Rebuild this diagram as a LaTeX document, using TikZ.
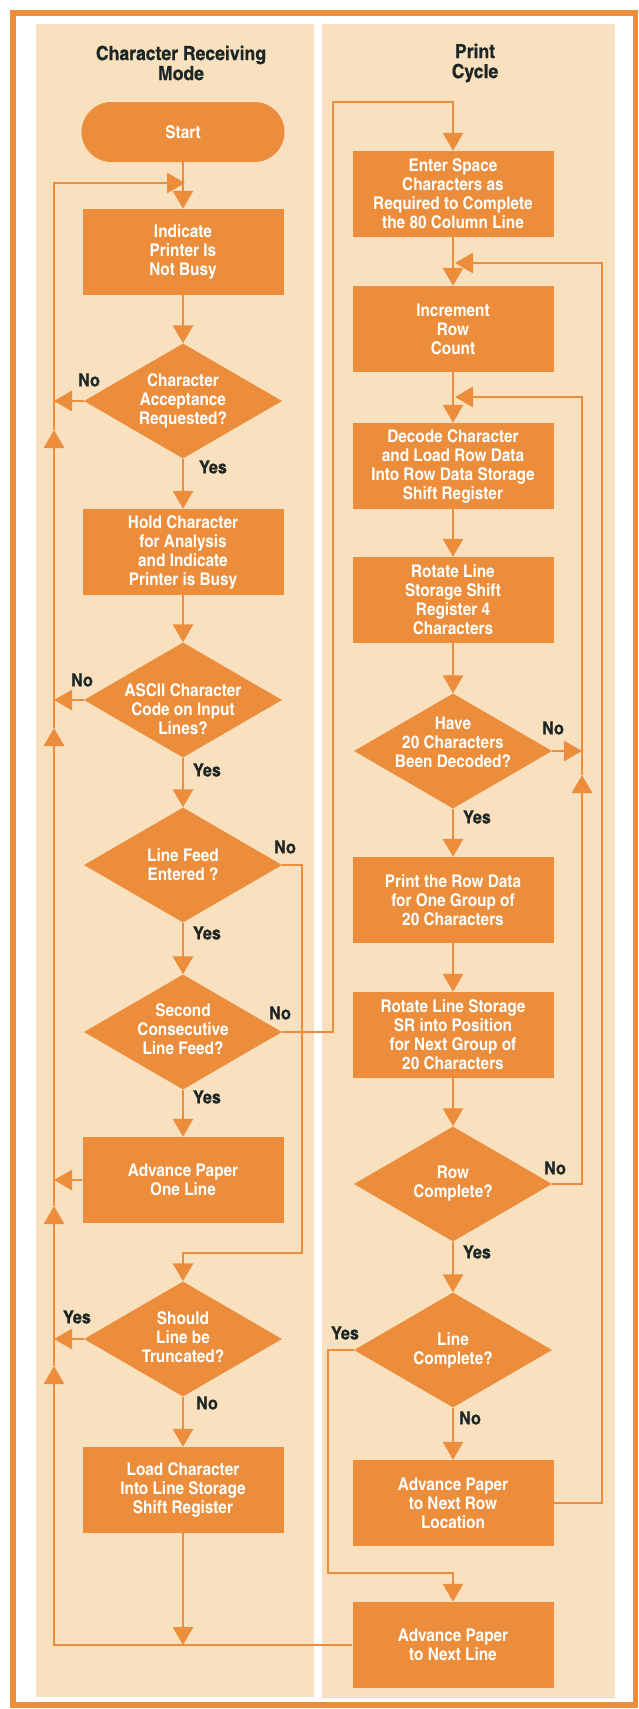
\documentclass[tikz,border=0pt]{standalone}
\usepackage{fontspec}
\newfontfamily\hf{texgyreheroscn-bold.otf}[FakeStretch=1.07]
\newfontfamily\tf{texgyreheroscn-bold.otf}[FakeStretch=1.1,FakeBold=0.6]
\usetikzlibrary{shapes.geometric,arrows.meta,calc}
\definecolor{org}{RGB}{235,141,58}
\definecolor{bge}{RGB}{249,224,190}
\definecolor{ink}{RGB}{28,38,36}
\tikzset{
  wtext/.style={text=white,font=\hf\fontsize{17.5}{19}\selectfont,align=center,inner sep=0pt},
  box/.style={rectangle,fill=org,minimum width=201pt,minimum height=86pt,inner sep=0pt,wtext},
  term/.style={rectangle,rounded corners=30pt,fill=org,minimum width=203pt,minimum height=60pt,inner sep=0pt,wtext},
  dia/.style={diamond,fill=org,minimum width=198pt,minimum height=115pt,inner sep=0pt},
  lab/.style={text=ink,font=\tf\fontsize{18}{19}\selectfont,inner sep=0pt},
  ttl/.style={text=ink,font=\tf\fontsize{19.5}{20}\selectfont,align=center,inner sep=0pt},
  arr/.style={draw=org,line width=2.8pt,-{Triangle[length=18pt,width=20pt]}},
  ln/.style={draw=org,line width=2.8pt},
}
\begin{document}
\begin{tikzpicture}[x=1pt,y=-1pt]
\useasboundingbox (0,0) rectangle (639,1709);
\fill[white] (0,0) rectangle (639,1709);
\draw[org,line width=5.5pt] (13,13) rectangle (635.5,1705);
\fill[bge] (36,24) rectangle (314,1697);
\fill[bge] (322,24) rectangle (615,1698);

% titles
\node[ttl] (t1) at (181,63) {Character Receiving\\Mode};
\node[ttl] (t2) at (475,63) {Print\\Cycle};

% left column
\node[term] (start) at (183,132) {Start};
\node[box] (ind) at (183,252) {Indicate\\Printer Is\\Not Busy};
\node[dia,label={[wtext]center:{Character\\Acceptance\\Requested?}}] (d1) at (183,401) {};
\node[box] (hold) at (183,552) {Hold Character\\for Analysis\\and Indicate\\Printer is Busy};
\node[dia,label={[wtext,yshift=-9pt]center:{ASCII Character\\Code on Input\\Lines?}}] (d2) at (183,700) {};
\node[dia,label={[wtext]center:{Line Feed\\Entered ?}}] (d3) at (183,865) {};
\node[dia,label={[wtext,yshift=3pt]center:{Second\\Consecutive\\Line Feed?}}] (d4) at (183,1032) {};
\node[box] (adv1) at (183,1180) {Advance Paper\\One Line};
\node[dia,label={[wtext,yshift=2pt]center:{Should\\Line be\\Truncated?}}] (d5) at (183,1339) {};
\node[box] (load) at (183,1490) {Load Character\\Into Line Storage\\Shift Register};

% right column
\node[box] (enter) at (453,194) {Enter Space\\Characters as\\Required to Complete\\the 80 Column Line};
\node[box] (inc) at (453,329) {Increment\\Row\\Count};
\node[box] (dec) at (453,466) {Decode Character\\and Load Row Data\\Into Row Data Storage\\Shift Register};
\node[box] (rot) at (453,600) {Rotate Line\\Storage Shift\\Register 4\\Characters};
\node[dia,label={[wtext,yshift=9pt]center:{Have\\20 Characters\\Been Decoded?}}] (d6) at (453,751) {};
\node[box] (print) at (453,900) {Print the Row Data\\for One Group of\\20 Characters};
\node[box] (rot2) at (453,1035) {Rotate Line Storage\\SR into Position\\for Next Group of\\20 Characters};
\node[dia,label={[wtext]center:{Row\\Complete?}}] (d7) at (453,1184) {};
\node[dia,label={[wtext]center:{Line\\Complete?}}] (d8) at (453,1350) {};
\node[box] (advrow) at (453,1503) {Advance Paper\\to Next Row\\Location};
\node[box] (advline) at (453,1645) {Advance Paper\\to Next Line};

% coordinates for loops
\coordinate (lb) at (54,1645);
\coordinate (u4) at (54,1366);
\coordinate (u3) at (54,1206);
\coordinate (u2) at (54,728);
\coordinate (u1) at (54,430);
\coordinate (lt) at (54,183);
\coordinate (jt) at (185,183);
\coordinate (lfx) at (302,865);
\coordinate (lfy) at (302,1253);
\coordinate (scx) at (333,102);
\coordinate (r1t) at (602,263);
\coordinate (r1j) at (455,263);
\coordinate (r2b) at (582,1184);
\coordinate (r2u) at (582,775);
\coordinate (r2t) at (582,397);
\coordinate (r2j) at (455,397);
\coordinate (ly1) at (328,1350);
\coordinate (ly2) at (328,1573);

% left connectors
\draw[arr] (start) -- (ind);
\draw[arr] (ind) -- (d1);
\draw[arr] (d1) -- (hold);
\draw[arr] (hold) -- (d2);
\draw[arr] (d2) -- (d3);
\draw[arr] (d3) -- (d4);
\draw[arr] (d4) -- (adv1);
\draw[arr] (d5) -- (load);
\draw[arr] (load) -- (load |- lb);
\draw[arr] (d1.west) -- (d1.west -| lt);
\draw[arr] (d2.west) -- (d2.west -| lt);
\draw[arr] (adv1.west) -- (adv1.west -| lt);
\draw[arr] (d5.west) -- (d5.west -| lt);
\draw[arr] (advline.west) -- (lb) -- (u4);
\draw[arr] (u4) -- (u3);
\draw[arr] (u3) -- (u2);
\draw[arr] (u2) -- (u1);
\draw[arr] (u1) -- (lt) -- (jt);
\draw[arr] (d3.east) -- (lfx) -- (lfy) -- (lfy -| d5) -- (d5);
\draw[arr] (d4.east) -| (scx) -| (enter);

% right connectors
\draw[arr] (enter) -- (inc);
\draw[arr] (inc) -- (dec);
\draw[arr] (dec) -- (rot);
\draw[arr] (rot) -- (d6);
\draw[arr] (d6) -- (print);
\draw[arr] (print) -- (rot2);
\draw[arr] (rot2) -- (d7);
\draw[arr] (d7) -- (d8);
\draw[arr] (d8) -- (advrow);
\draw[arr] (advrow.east) -- (advrow.east -| r1t) -- (r1t) -- (r1j);
\draw[arr] (d7.east) -- (r2b) -- (r2u);
\draw[arr] (r2u) -- (r2t) -- (r2j);
\draw[arr] (d6.east) -- (d6.east -| r2t);
\draw[arr] (d8.west) -- (ly1) -- (ly2) -| (advline);

% labels
\node[lab] (n1) at (89,380) {No};
\node[lab] (y1) at (213,467) {Yes};
\node[lab] (n2) at (82,680) {No};
\node[lab] (y2) at (207,770) {Yes};
\node[lab] (n3) at (285,847) {No};
\node[lab] (y3) at (207,933) {Yes};
\node[lab] (n4) at (280,1013) {No};
\node[lab] (y4) at (207,1097) {Yes};
\node[lab] (y5) at (77,1317) {Yes};
\node[lab] (n5) at (207,1403) {No};
\node[lab] (n6) at (553,728) {No};
\node[lab] (y6) at (477,817) {Yes};
\node[lab] (n7) at (555,1168) {No};
\node[lab] (y7) at (477,1252) {Yes};
\node[lab] (y8) at (345,1333) {Yes};
\node[lab] (n8) at (470,1418) {No};
\end{tikzpicture}
\end{document}
